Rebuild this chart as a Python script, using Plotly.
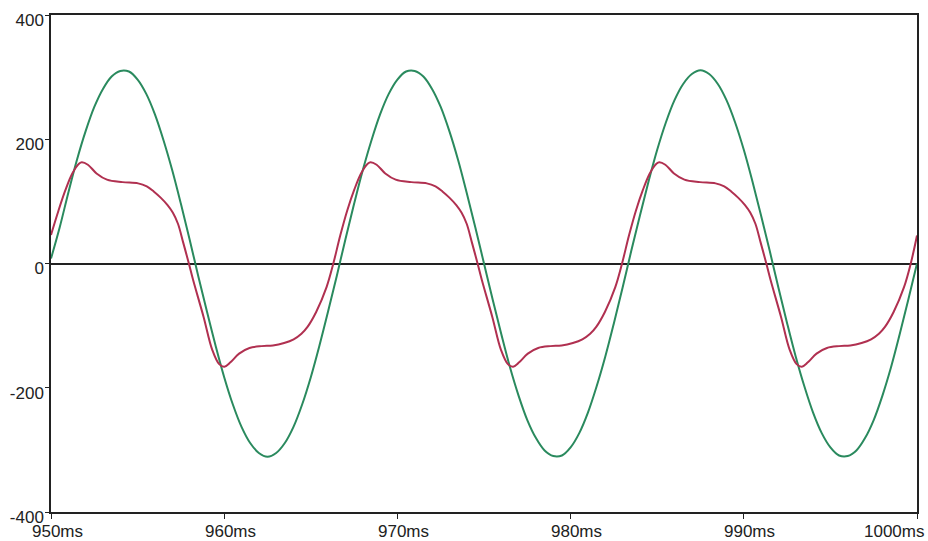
import plotly.graph_objects as go

# Green trace (voltage), sampled every 0.5 ms from 950 ms to 1000 ms
green_t = [950 + 0.5 * i for i in range(101)]
green_v = [8, 58, 114, 167, 213, 252, 281, 301, 310, 309, 296, 273, 240, 198, 150, 96, 39, -20, -77, -132,
           -183, -227, -263, -289, -305, -311, -305, -289, -263, -227, -183, -132, -77, -20, 39, 96, 150, 198, 240, 273,
           296, 309, 310, 301, 281, 252, 213, 167, 114, 58, 0, -58, -114, -167, -213, -252, -281, -301, -310, -309,
           -296, -273, -240, -198, -150, -96, -39, 20, 77, 132, 183, 227, 263, 289, 305, 311, 305, 289, 263, 227,
           183, 132, 77, 20, -39, -96, -150, -198, -240, -273, -296, -309, -310, -301, -281, -252, -213, -167, -114, -58, 0]

# Red trace (current), key points
red_t = [950.00, 950.43, 950.83, 951.23, 951.63, 951.78, 952.13, 952.63, 953.23, 954.13, 955.03, 955.53, 955.93,
         956.33, 956.73, 957.03, 957.33, 957.63, 957.96,
         958.21, 958.81, 959.31, 959.71, 960.01, 960.36, 960.86, 961.46, 962.16, 962.81, 963.46, 964.01, 964.46,
         964.81, 965.31, 965.91, 966.30,
         966.70, 967.10, 967.50, 967.90, 968.30, 968.45, 968.80, 969.30, 969.90, 970.80, 971.70, 972.20, 972.60,
         973.00, 973.40, 973.70, 974.00, 974.30, 974.63,
         974.88, 975.48, 975.98, 976.38, 976.68, 977.03, 977.53, 978.13, 978.83, 979.48, 980.13, 980.68, 981.13,
         981.48, 981.98, 982.58, 982.97,
         983.37, 983.77, 984.17, 984.57, 984.97, 985.12, 985.47, 985.97, 986.57, 987.47, 988.37, 988.87, 989.27,
         989.67, 990.07, 990.37, 990.67, 990.97, 991.30,
         991.55, 992.15, 992.65, 993.05, 993.35, 993.70, 994.20, 994.80, 995.50, 996.15, 996.80, 997.35, 997.80,
         998.15, 998.65, 999.25, 999.64, 1000.0]
red_v = [46, 85, 118, 145, 161, 163, 159, 145, 135, 131, 129, 124, 116, 106, 94, 82, 64, 34, 0,
         -27, -86, -139, -162, -166, -159, -145, -136, -133, -132, -128, -122, -113, -102, -78, -38, 0,
         45, 85, 118, 145, 161, 163, 159, 145, 135, 131, 129, 124, 116, 106, 94, 82, 64, 34, 0,
         -27, -86, -139, -162, -166, -159, -145, -136, -133, -132, -128, -122, -113, -102, -78, -38, 0,
         45, 85, 118, 145, 161, 163, 159, 145, 135, 131, 129, 124, 116, 106, 94, 82, 64, 34, 0,
         -27, -86, -139, -162, -166, -159, -145, -136, -133, -132, -128, -122, -113, -102, -78, -38, 0, 45]

x_ticks = [950, 960, 970, 980, 990, 1000]
x_labels = ["950ms", "960ms", "970ms", "980ms", "990ms", "1000ms"]
y_ticks = [-400, -200, 0, 200, 400]
y_labels = ["-400", "-200", "0", "200", "400"]

FONT = "Liberation Sans, Arial, sans-serif"

fig = go.Figure()
fig.add_trace(go.Scatter(x=green_t, y=green_v, mode="lines", line=dict(color="#2a8a5e", width=2, shape="spline"),
                         showlegend=False, hoverinfo="skip"))
fig.add_trace(go.Scatter(x=red_t, y=red_v, mode="lines", line=dict(color="#b03050", width=2, shape="spline"),
                         showlegend=False, hoverinfo="skip"))

annotations = []
for v, lab in zip(x_ticks, x_labels):
    if v == 1000:
        annotations.append(dict(x=v, y=0, xref="x", yref="paper", text=lab, showarrow=False,
                                xanchor="right", yanchor="top", xshift=9, yshift=-8,
                                font=dict(family=FONT, size=17, color="#222")))
    else:
        annotations.append(dict(x=v, y=0, xref="x", yref="paper", text=lab, showarrow=False,
                                xanchor="center", yanchor="top", xshift=6, yshift=-8,
                                font=dict(family=FONT, size=17, color="#222")))

fig.update_layout(
    width=928, height=541,
    margin=dict(l=51, r=11, t=15, b=29, autoexpand=False),
    paper_bgcolor="white", plot_bgcolor="white",
    annotations=annotations,
    xaxis=dict(range=[950, 1000], tickvals=x_ticks, showticklabels=False, ticks="outside", ticklen=5,
               tickcolor="#222", showgrid=False, zeroline=False, showline=True, linecolor="#222",
               linewidth=1.5, mirror=True, fixedrange=True, automargin=False),
    yaxis=dict(range=[-400, 400], tickvals=y_ticks, ticktext=y_labels, ticks="outside", ticklen=4,
               tickcolor="#222", showgrid=False, zeroline=True, zerolinecolor="#222", zerolinewidth=1.5,
               showline=True, linecolor="#222", linewidth=1.5, mirror=True, ticklabelstandoff=-2,
               ticklabelshift=5, automargin=False,
               tickfont=dict(family=FONT, size=17, color="#222"), fixedrange=True),
)

fig.write_html("out.html")
